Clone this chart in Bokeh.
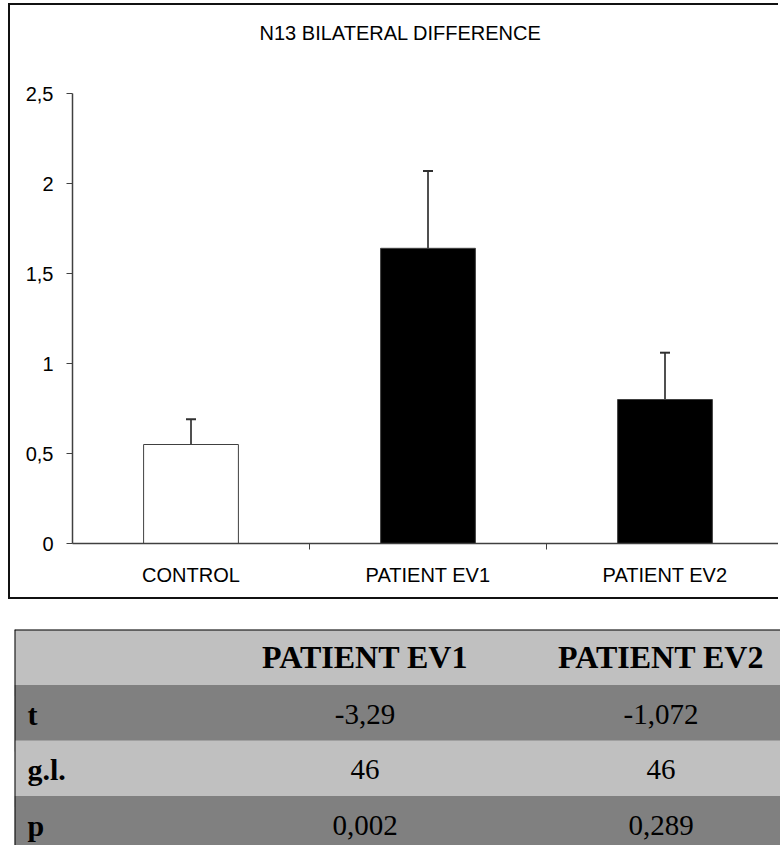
from bokeh.plotting import figure
from bokeh.models import ColumnDataSource, Range1d, FixedTicker, Whisker, TeeHead, Span, Label
from bokeh.layouts import column
from bokeh.embed import file_html
from bokeh.resources import INLINE
from bokeh.core.properties import value

# --- chart data ---
categories = ["CONTROL", "PATIENT EV1", "PATIENT EV2"]
means = [0.55, 1.64, 0.80]
upper = [0.69, 2.07, 1.06]
bar_colors = ["white", "black", "black"]
y_ticks = [0, 0.5, 1, 1.5, 2, 2.5]
y_tick_labels = ["0", "0,5", "1", "1,5", "2", "2,5"]
chart_title = "N13 BILATERAL DIFFERENCE"

# --- table data ---
table_columns = ["PATIENT EV1", "PATIENT EV2"]
row_labels = ["t", "g.l.", "p"]
ev1_values = ["-3,29", "46", "0,002"]
ev2_values = ["-1,072", "46", "0,289"]

SANS = "Liberation Sans"
SERIF = "Liberation Serif"
AXIS_GRAY = "#404040"
FRAME_BORDER = "2px solid #111111"

PX_PER_UNIT = 180          # vertical scale of the value axis
HEADROOM = 88 / PX_PER_UNIT  # space above 2.5 that holds the title

xs = [i + 0.5 for i in range(len(categories))]
src = ColumnDataSource(dict(x=xs, top=means, upper=upper, color=bar_colors))

p = figure(width=770, height=596, output_backend="svg", toolbar_location=None,
           x_range=Range1d(0, 708 / 237), y_range=Range1d(0, y_ticks[-1] + HEADROOM),
           min_border_left=62, min_border_right=0, min_border_top=0,
           min_border_bottom=58, margin=(3, 0, 0, 8),
           styles={"border-left": FRAME_BORDER, "border-top": FRAME_BORDER,
                   "border-bottom": FRAME_BORDER})
p.outline_line_color = None
p.grid.visible = False

p.add_layout(Label(x=1.384, y=2.838, text=chart_title, text_align="center",
                   text_baseline="alphabetic", text_font=SANS,
                   text_font_size="20px", text_color="black"))

p.vbar(x="x", top="top", width=0.4, source=src, fill_color="color",
       line_color=AXIS_GRAY, line_width=1)

whisk = Whisker(base="x", lower="top", upper="upper", source=src,
                line_color="#505050", line_width=2, lower_head=None,
                upper_head=TeeHead(size=10, line_color="#303030", line_width=2))
p.add_layout(whisk)

# y axis
ya = p.yaxis[0]
ya.ticker = FixedTicker(ticks=y_ticks)
ya.bounds = (y_ticks[0], y_ticks[-1])
ya.major_label_overrides = {t: s for t, s in zip(y_ticks, y_tick_labels)}
ya.major_tick_out = 6
ya.major_tick_in = 0
ya.minor_tick_out = 0
ya.minor_tick_in = 0
ya.major_label_standoff = 13
ya.axis_line_color = AXIS_GRAY
ya.axis_line_width = 1.5
ya.major_tick_line_color = AXIS_GRAY
ya.major_label_text_font = SANS
ya.major_label_text_font_size = "20px"
ya.major_label_text_color = "black"

# x axis: labels at category centres, tick marks at category boundaries
xa = p.xaxis[0]
xa.ticker = FixedTicker(ticks=xs, minor_ticks=[1, 2, 3])
xa.major_label_overrides = {x: c for x, c in zip(xs, categories)}
xa.major_tick_out = 0
xa.major_tick_in = 0
xa.minor_tick_out = 6
xa.minor_tick_in = 0
xa.minor_tick_line_color = AXIS_GRAY
xa.major_label_standoff = 14
xa.axis_line_color = AXIS_GRAY
xa.axis_line_width = 1.5
xa.major_label_text_font = SANS
xa.major_label_text_font_size = "20px"
xa.major_label_text_color = "black"

# --- statistics table ---
# the column layout gives the table the same left border as the chart (62px),
# so negative margins move its frame back to x = 14 and let it run to the edge
col_edges = [0, 180, 519, 776]
row_h = 55.5
table_h = 216
n_rows = 1 + len(row_labels)
t = figure(width=828, height=table_h, output_backend="svg", toolbar_location=None,
           x_range=Range1d(0, 766), y_range=Range1d(table_h / row_h, 0),
           x_axis_location=None, y_axis_location=None,
           min_border_left=62, min_border_right=0, min_border_top=0,
           min_border_bottom=0, margin=(30, -48, 0, -48),
           styles={"flex-shrink": "0", "max-width": "none"})
t.grid.visible = False
t.outline_line_color = None

row_fill = ["#c0c0c0", "#808080", "#c0c0c0", "#808080"]
t.quad(left=[0] * n_rows, right=[900] * n_rows,
       top=list(range(n_rows)), bottom=[i + 1.2 for i in range(n_rows)],
       fill_color=row_fill, line_color=None)

centers = [(col_edges[1] + col_edges[2]) / 2 + 1, (col_edges[2] + col_edges[3]) / 2 - 1]
head_base = 27 / row_h
base = 29 / row_h
t.text(x=centers, y=[head_base] * 2, text=table_columns,
       text_font=value(SERIF), text_font_style="bold", text_font_size="32px",
       text_align="center", text_baseline="alphabetic", text_color="black")
rows_y = [i + 1 + base for i in range(len(row_labels))]
t.text(x=[13] * len(row_labels), y=rows_y, text=row_labels,
       text_font=value(SERIF), text_font_style="bold", text_font_size="30px",
       text_align="left", text_baseline="alphabetic", text_color="black")
t.text(x=[centers[0]] * 3, y=rows_y, text=ev1_values,
       text_font=value(SERIF), text_font_size="29px",
       text_align="center", text_baseline="alphabetic", text_color="black")
t.text(x=[centers[1]] * 3, y=rows_y, text=ev2_values,
       text_font=value(SERIF), text_font_size="29px",
       text_align="center", text_baseline="alphabetic", text_color="black")

t.add_layout(Span(location=0, dimension="width", line_color="black", line_width=2))
t.add_layout(Span(location=0, dimension="height", line_color="black", line_width=2))

layout = column(p, t, spacing=0)
open("out.html", "w").write(file_html(layout, INLINE))
